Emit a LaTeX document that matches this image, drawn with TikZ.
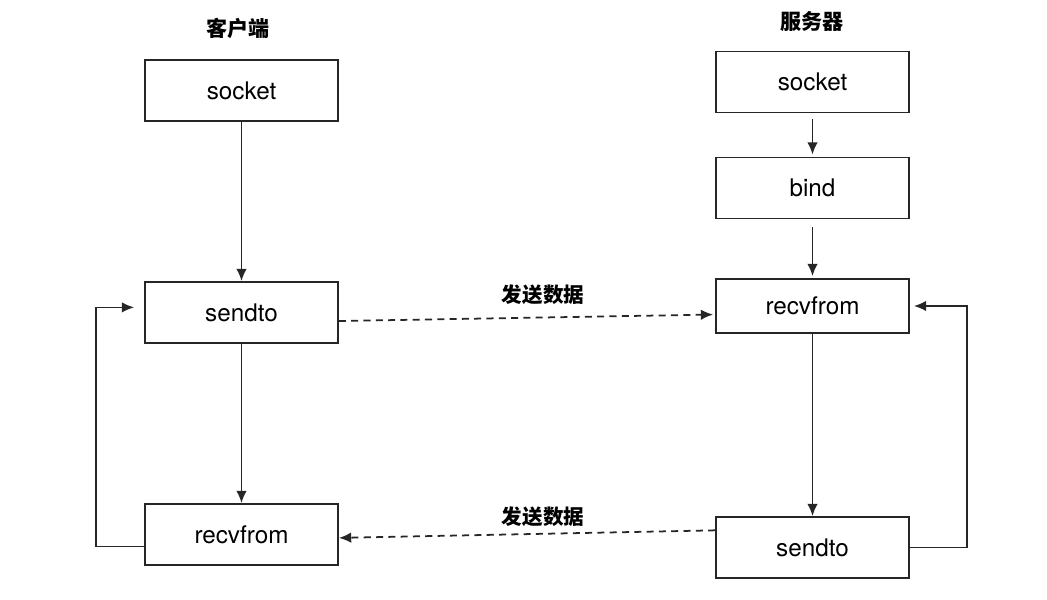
\documentclass[tikz,border=0pt]{standalone}
\usepackage{fontspec}
\setmainfont{TeX Gyre Heros}
\newfontfamily\cjk{Noto Sans CJK SC}
\usetikzlibrary{arrows.meta}
\newcommand{\sendlabel}{{\cjk\bfseries 发送数据}}

\begin{document}
\begin{tikzpicture}[
    box/.style={draw=black!85, line width=1pt, minimum width=3.86cm, minimum height=1.22cm, font=\fontsize{13.8}{16}\selectfont},
    title/.style={font=\fontsize{12}{14}\selectfont\cjk\bfseries},
    flow/.style={line width=1pt, draw=black!85, -{Latex[length=7pt,width=6pt]}},
    data/.style={flow, dashed, dash pattern=on 4pt off 3pt},
    lbl/.style={font=\fontsize{11.7}{14}\selectfont, xshift=0.32cm}]
\useasboundingbox (0,0) rectangle (20.94,11.98);

% client side
\node[title] (client) at (4.76,11.42) {客户端};
\node[box] (csocket) at (4.83,10.17) {socket};
\node[box] (csendto) at (4.83,5.73) {sendto};
\node[box] (crecv) at (4.83,1.29) {recvfrom};

% server side
\node[title] (server) at (16.24,11.54) {服务器};
\node[box] (ssocket) at (16.25,10.34) {socket};
\node[box] (sbind) at (16.25,8.22) {bind};
\node[box, minimum height=1.08cm] (srecv) at (16.25,5.86) {recvfrom};
\node[box] (ssendto) at (16.25,1.03) {sendto};

\draw[flow] (csocket) -- (csendto);
\draw[flow] (csendto) -- (crecv);
\draw[flow, shorten <=0.12cm, shorten >=0.04cm] (ssocket) -- (sbind);
\draw[flow, shorten <=0.16cm, shorten >=0.04cm] (sbind) -- (srecv);
\draw[flow] (srecv) -- (ssendto);

% loops
\draw[flow, shorten >=0.2cm] (crecv.187) -- ++(-0.96,0) |- (csendto.177);
\draw[flow, shorten >=0.08cm] (ssendto.east) -- ++(1.14,0) |- (srecv.east);

% data between both sides
\draw[data, shorten >=0.04cm] (csendto.-5) -- (srecv.185) node[midway, above=0.12cm, lbl] (up) {\sendlabel};
\draw[data] (ssendto.170) -- (crecv.-2) node[midway, above=0.02cm, lbl] (down) {\sendlabel};
\end{tikzpicture}
\end{document}
